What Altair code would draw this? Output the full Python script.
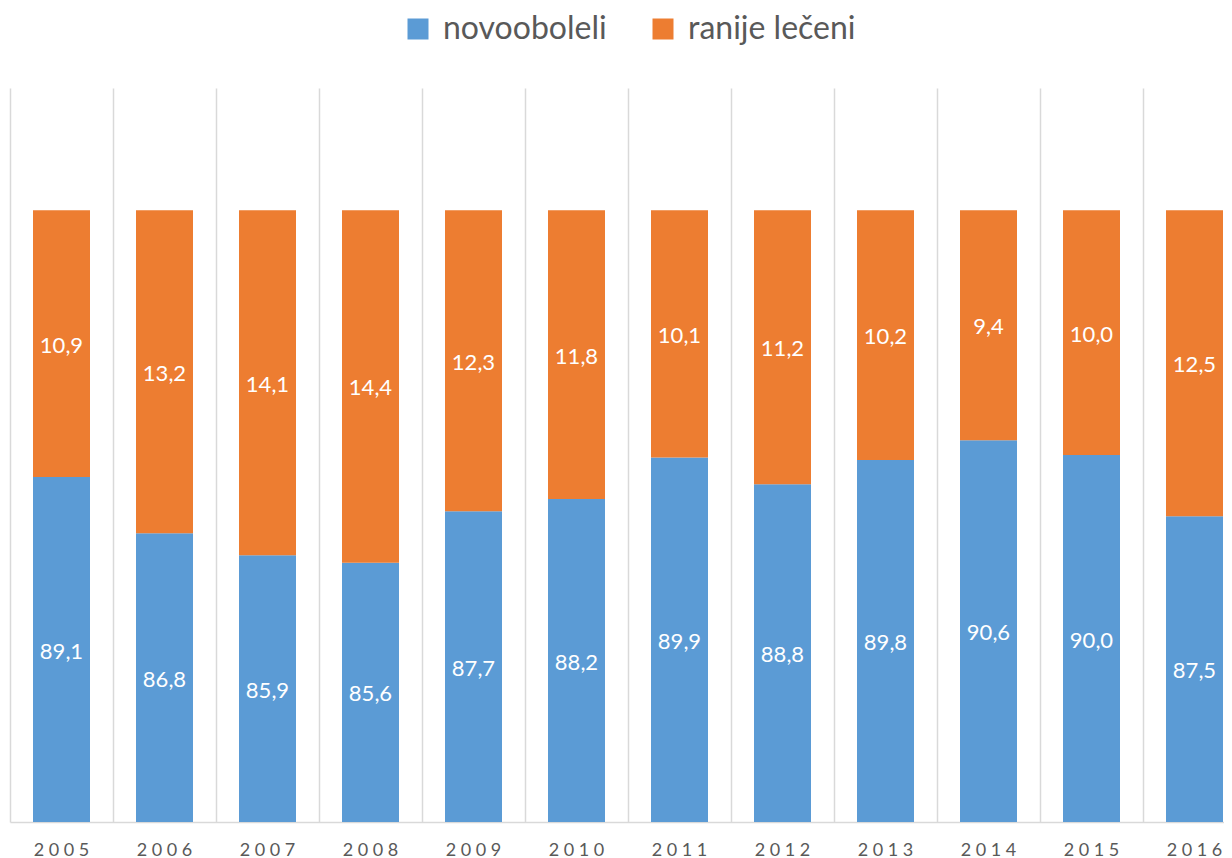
import altair as alt
import pandas as pd

years = ["2005", "2006", "2007", "2008", "2009", "2010", "2011", "2012", "2013", "2014", "2015", "2016"]
novooboleli = [89.1, 86.8, 85.9, 85.6, 87.7, 88.2, 89.9, 88.8, 89.8, 90.6, 90.0, 87.5]
ranije = [10.9, 13.2, 14.1, 14.4, 12.3, 11.8, 10.1, 11.2, 10.2, 9.4, 10.0, 12.5]
series = ["novooboleli", "ranije lečeni"]
colors = ["#5B9BD5", "#ED7D31"]

rows = []
for y, a, b in zip(years, novooboleli, ranije):
    rows.append({"year": y, "series": series[0], "value": a, "y0": 0.0, "y1": a})
    rows.append({"year": y, "series": series[1], "value": b, "y0": a, "y1": a + b})
df = pd.DataFrame(rows)

YMIN, YMAX = 75, 105
font = "Lato"

x_enc = alt.X(
    "year:N",
    sort=years,
    scale=alt.Scale(range=[0, 1236], paddingInner=0, paddingOuter=0),
    axis=alt.Axis(
        title=None,
        grid=True,
        gridColor="#D9D9D9",
        gridWidth=1.5,
        bandPosition=0,
        ticks=False,
        domainColor="#D9D9D9",
        domainWidth=1.5,
        labelFont=font,
        labelFontSize=18,
        labelColor="#595959",
        labelPadding=19,
        labelAngle=0,
        labelExpr="substring(datum.label,0,1)+' '+substring(datum.label,1,2)+' '+substring(datum.label,2,3)+' '+substring(datum.label,3,4)",
    ),
)

y_scale = alt.Scale(domain=[YMIN, YMAX], clamp=True, zero=False, nice=False)

bars = alt.Chart(df).mark_bar(width=alt.RelativeBandSize(57 / 103)).encode(
    x=x_enc,
    y=alt.Y("y0:Q", scale=y_scale, axis=None),
    y2="y1:Q",
    color=alt.Color(
        "series:N",
        scale=alt.Scale(domain=series, range=colors),
        legend=alt.Legend(
            title=None,
            orient="none",
            legendX=392,
            legendY=-75,
            direction="horizontal",
            symbolType="square",
            symbolSize=441,
            symbolStrokeWidth=0,
            labelFont=font,
            labelFontSize=32,
            labelColor="#595959",
            labelOffset=9,
            labelLimit=0,
            columnPadding=40,
            padding=0,
        ),
    ),
)

labels = alt.Chart(df).transform_calculate(
    mid=f"(max(datum.y0, {YMIN}) + datum.y1) / 2",
    txt="replace(format(datum.value, '.1f'), '.', ',')",
).mark_text(color="white", font=font, fontSize=22, baseline="middle", dy=2).encode(
    x=alt.X("year:N", sort=years),
    y=alt.Y("mid:Q", scale=y_scale),
    text="txt:N",
)

chart = (
    alt.layer(bars, labels)
    .properties(
        width=1212,
        height=734,
        autosize=alt.AutoSizeParams(type="none"),
        padding={"top": 80, "left": 2, "right": 2, "bottom": 36},
    )
    .configure_view(stroke=None)
)

chart.save("out.html", embed_options={"renderer": "svg", "actions": False})
